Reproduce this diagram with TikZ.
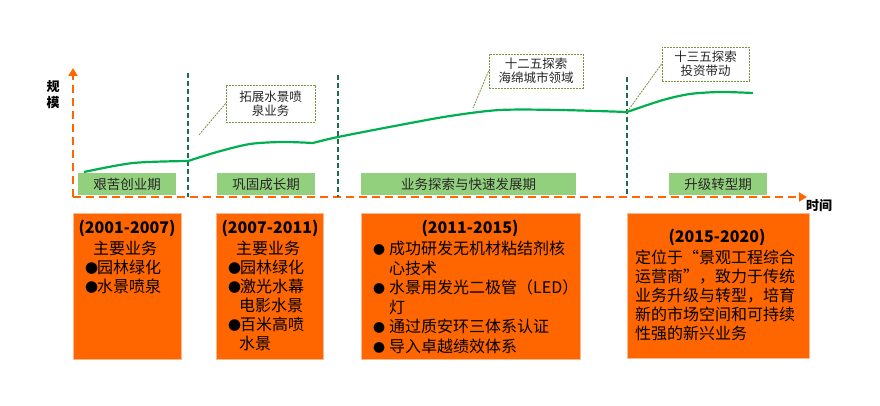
\documentclass[tikz,border=0pt]{standalone}
\usepackage{fontspec}
\setmainfont{Noto Sans CJK SC}
\usepackage{tikz}
\usetikzlibrary{arrows.meta}
\definecolor{oorange}{HTML}{FF6600}
\definecolor{oedge}{HTML}{F8B990}
\definecolor{lgreen}{HTML}{93D07E}
\definecolor{cgreen}{HTML}{00B050}
\definecolor{dgreen}{HTML}{1F6B50}
\definecolor{oolive}{HTML}{77933C}
\definecolor{ttext}{HTML}{262626}
\newcommand{\bul}{\makebox[16pt][l]{\fontsize{12}{12}\selectfont ●}}
\newcommand{\blt}{\makebox[12pt][l]{\fontsize{13}{13}\selectfont ●}}
\begin{document}
\begin{tikzpicture}[x=1pt,y=-1pt,
	axis/.style={oorange,line width=2.2pt,dash pattern=on 8pt off 5pt,-{Triangle[length=8pt,width=9pt]}},
	divider/.style={dgreen,line width=1.8pt,dash pattern=on 5pt off 3pt},
	curve/.style={cgreen,line width=2.2pt},
	phase/.style={fill=lgreen,text=ttext,minimum height=22pt,inner sep=0pt,font=\fontsize{13.5}{16}\selectfont},
	note/.style={draw=oolive,fill=white,text=ttext,line width=0.8pt,dash pattern=on 2pt off 1pt,minimum height=34pt,inner sep=0pt,align=center,font=\fontsize{12.5}{14}\selectfont},
	lead/.style={oolive,line width=0.8pt,dash pattern=on 2pt off 1pt},
	yearbox/.style={fill=oorange,draw=oedge,line width=0.6pt,inner sep=0pt},
	yearhead/.style={font=\fontsize{16}{19}\selectfont\bfseries,inner sep=0pt},
	yeartext/.style={font=\fontsize{16}{19}\selectfont,inner sep=0pt,align=left,anchor=north west}]
				\useasboundingbox (0,0) rectangle (880,406);
				\coordinate (o) at (73,197);
				\coordinate (ytop) at (73,68);
				\coordinate (xend) at (807,197);
				\draw[axis] (o) -- (ytop);
				\draw[axis] (o) -- (xend);
				\node[font=\fontsize{13}{16}\selectfont\bfseries,align=center] (ylab) at (53,95) {规\\模};
				\node[font=\fontsize{13}{16}\selectfont\bfseries] (xlab) at (819,206) {时间};
				\draw[divider] (188,73) -- (188,197);
				\draw[divider] (338,75) -- (338,197);
				\draw[divider] (627,77) -- (627,197);
				\node[phase,minimum width=98pt] (p1) at (127,184) {艰苦创业期};
				\node[phase,minimum width=98pt] (p2) at (266,184) {巩固成长期};
				\node[phase,minimum width=215pt] (p3) at (468.5,184) {业务探索与快速发展期};
				\node[phase,minimum width=98pt] (p4) at (718,184) {升级转型期};
				\draw[curve] plot[smooth] coordinates {(84,172) (133,163) (188,161)};
				\draw[curve] plot[smooth] coordinates {(188,161) (217,152) (250,144) (283,142) (313,143)};
				\draw[curve] plot[smooth] coordinates {(313,143) (338,137) (400,125) (450,116) (500,110) (560,110) (627,112)};
				\draw[curve] plot[smooth] coordinates {(627,112) (663,100) (690,94) (720,92) (753,93)};
				\node[note,minimum width=89pt,minimum height=37pt] (c1) at (270.5,103.5) {拓展水景喷\\泉业务};
				\node[note,minimum width=94pt] (c2) at (536,71) {十二五探索\\海绵城市领域};
				\node[note,minimum width=87pt] (c3) at (705.5,64) {十三五探索\\投资带动};
				\coordinate (e1) at (199,135);
				\coordinate (e2) at (473,108);
				\coordinate (e3) at (627,112);
				\draw[lead] (c1.west) -- (e1);
				\draw[lead] (c2.west) -- (e2);
				\draw[lead] (c3.west) -- (e3);
				\node[yearbox,minimum width=108pt,minimum height=146pt] (b1) at (127,286) {};
				\node[yearbox,minimum width=107pt,minimum height=146pt] (b2) at (269.5,286) {};
				\node[yearbox,minimum width=219pt,minimum height=146pt] (b3) at (470.5,286) {};
				\node[yearbox,minimum width=182pt,minimum height=145pt] (b4) at (718,285.5) {};
				\node[yearhead] (h1) at (127,228) {(2001-2007)};
				\node[yearhead] (h2) at (270,228) {(2007-2011)};
				\node[yearhead] (h3) at (470,228) {(2011-2015)};
				\node[yearhead] (h4) at (717,237) {(2015-2020)};
				\node[yeartext] (t1) at (85,241) {\hspace*{8pt}主要业务\\\blt 园林绿化\\\blt 水景喷泉};
				\node[yeartext] (t2) at (228,241) {\hspace*{8pt}主要业务\\\blt 园林绿化\\\blt 激光水幕\\\hspace*{11pt}电影水景\\\blt 百米高喷\\\hspace*{11pt}水景};
				\node[yeartext,font=\fontsize{16}{19.5}\selectfont] (t3) at (373,241) {\bul 成功研发无机材粘结剂核\\\hspace*{16pt}心技术\\\bul 水景用发光二极管（LED）\\\hspace*{16pt}灯\\\bul 通过质安环三体系认证\\\bul 导入卓越绩效体系};
				\node[yeartext] (t4) at (635,250) {定位于“景观工程综合\\运营商”，致力于传统\\业务升级与转型，培育\\新的市场空间和可持续\\性强的新兴业务};
			\end{tikzpicture}
\end{document}
